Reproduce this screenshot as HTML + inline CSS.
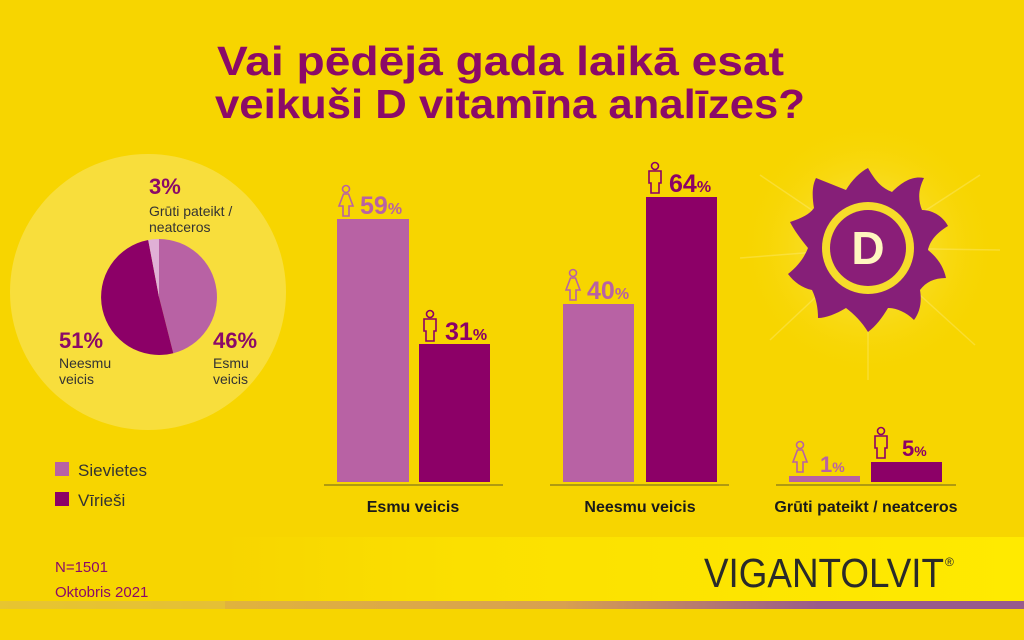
<!DOCTYPE html>
<html><head><meta charset="utf-8"><style>
html,body{margin:0;padding:0;width:1024px;height:640px;overflow:hidden;background:#f7d500}
svg{display:block}
text{font-family:"Liberation Sans",sans-serif}
</style></head><body>
<svg width="1024" height="640" viewBox="0 0 1024 640" xmlns="http://www.w3.org/2000/svg">
<defs>
<linearGradient id="band" x1="0" x2="1" y1="0" y2="0">
<stop offset="0" stop-color="#f7d500"/><stop offset="0.3" stop-color="#fbe000"/><stop offset="1" stop-color="#ffea00"/></linearGradient>
<linearGradient id="pl" x1="0" x2="1"><stop offset="0" stop-color="#e6c030"/><stop offset="0.55" stop-color="#d8a050"/><stop offset="0.8" stop-color="#9a5a8a"/><stop offset="1" stop-color="#985a8c"/></linearGradient>
<radialGradient id="glow" cx="0.5" cy="0.5" r="0.5"><stop offset="0" stop-color="#fff7a0" stop-opacity="0.7"/><stop offset="1" stop-color="#f7d500" stop-opacity="0"/></radialGradient>
<g id="fem"><circle cx="0" cy="-27" r="3.5" fill="none" stroke-width="1.6"/><path d="M-2.5 -22 L2.5 -22 L7 -10 L3 -10 L3 0 L-3 0 L-3 -10 L-7 -10 Z" fill="none" stroke-width="1.6"/></g>
<g id="mal"><circle cx="0" cy="-27" r="3.5" fill="none" stroke-width="1.6"/><path d="M-6 -22 L6 -22 L6 -10 L4 -10 L4 0 L-4 0 L-4 -10 L-6 -10 Z" fill="none" stroke-width="1.6"/></g>
</defs>
<rect width="1024" height="640" fill="#f7d500"/>
<text x="217" y="75" font-size="41" font-weight="bold" fill="#8b0a68" textLength="567" lengthAdjust="spacingAndGlyphs">Vai pēdējā gada laikā esat</text>
<text x="215" y="118" font-size="41" font-weight="bold" fill="#8b0a68" textLength="590" lengthAdjust="spacingAndGlyphs">veikuši D vitamīna analīzes?</text>
<circle cx="148" cy="292" r="138" fill="#f8de3c"/>
<g transform="translate(159,297)">
<path d="M0 0 L0 -58 A58 58 0 0 1 14.3 56.2 Z" fill="#b862a4"/>
<path d="M0 0 L14.3 56.2 A58 58 0 1 1 -10.8 -57 Z" fill="#8c0067"/>
<path d="M0 0 L-10.8 -57 A58 58 0 0 1 0 -58 Z" fill="#e0b0d6"/>
</g>
<text x="149" y="194" font-size="22" font-weight="bold" fill="#8b0a68">3%</text>
<text x="149" y="216" font-size="14" fill="#333">Grūti pateikt /</text>
<text x="149" y="232" font-size="14" fill="#333">neatceros</text>
<text x="59" y="348" font-size="22" font-weight="bold" fill="#8b0a68">51%</text>
<text x="59" y="368" font-size="14" fill="#333">Neesmu</text>
<text x="59" y="384" font-size="14" fill="#333">veicis</text>
<text x="213" y="348" font-size="22" font-weight="bold" fill="#8b0a68">46%</text>
<text x="213" y="368" font-size="14" fill="#333">Esmu</text>
<text x="213" y="384" font-size="14" fill="#333">veicis</text>
<rect x="55" y="462" width="14" height="14" fill="#b862a4"/>
<text x="78" y="476" font-size="17" fill="#333">Sievietes</text>
<rect x="55" y="492" width="14" height="14" fill="#8c0067"/>
<text x="78" y="506" font-size="17" fill="#333">Vīrieši</text>
<text x="55" y="572" font-size="15" fill="#8b0a68">N=1501</text>
<text x="55" y="597" font-size="15" fill="#8b0a68">Oktobris 2021</text>
<circle cx="868" cy="248" r="130" fill="url(#glow)"/>
<g stroke="#fff3a0" stroke-opacity="0.3" stroke-width="1.5">
<line x1="868" y1="248" x2="760" y2="175"/><line x1="868" y1="248" x2="980" y2="175"/><line x1="868" y1="248" x2="770" y2="340"/><line x1="868" y1="248" x2="975" y2="345"/><line x1="868" y1="248" x2="868" y2="380"/><line x1="868" y1="248" x2="1000" y2="250"/><line x1="868" y1="248" x2="740" y2="258"/>
</g>
<g transform="translate(868,248)" fill="#861f78">
<path d="M0 -80 C8 -66 14 -60 24 -56 C36 -68 46 -72 56 -70 C50 -58 50 -48 54 -38 C66 -38 76 -30 80 -22 C70 -16 62 -8 60 2 C70 10 76 20 78 30 C66 30 58 34 52 42 C54 54 52 64 46 72 C38 64 28 60 20 60 C14 70 8 78 0 84 C-6 74 -14 66 -22 60 C-32 66 -42 70 -50 70 C-50 60 -52 50 -56 42 C-66 40 -74 34 -80 26 C-70 18 -64 10 -60 0 C-68 -10 -74 -18 -78 -26 C-66 -30 -58 -34 -54 -40 C-56 -52 -56 -62 -52 -70 C-42 -66 -32 -62 -22 -58 C-16 -68 -8 -76 0 -80 Z"/>
<circle r="46" fill="#f6dc2a"/><circle r="38" fill="#8a1e78"/>
<text x="0" y="16" font-size="46" font-weight="bold" text-anchor="middle" fill="#fff6c0">D</text>
</g>
<rect x="225" y="537" width="799" height="66" fill="url(#band)"/>
<rect x="0" y="601" width="1024" height="8" fill="url(#pl)"/>
<rect x="0" y="601" width="225" height="8" fill="#e8c830" opacity="0.6"/>
<text x="704" y="587" font-size="41" fill="#2a2a2a" textLength="240" lengthAdjust="spacingAndGlyphs">VIGANTOLVIT</text>
<text x="945" y="566" font-size="12" fill="#2a2a2a">®</text>
<g fill="#b09a10"><rect x="324" y="484" width="179" height="2"/><rect x="550" y="484" width="179" height="2"/><rect x="776" y="484" width="180" height="2"/></g>
<rect x="337" y="219" width="72" height="263" fill="#b862a4"/>
<rect x="419" y="344" width="71" height="138" fill="#8c0067"/>
<rect x="563" y="304" width="71" height="178" fill="#b862a4"/>
<rect x="646" y="197" width="71" height="285" fill="#8c0067"/>
<rect x="789" y="476" width="71" height="6" fill="#b862a4"/>
<rect x="871" y="462" width="71" height="20" fill="#8c0067"/>
<use href="#fem" x="346" y="216" stroke="#b862a4"/>
<text x="360" y="214" font-size="25" font-weight="bold" fill="#b862a4">59<tspan font-size="16">%</tspan></text>
<use href="#mal" x="430" y="341" stroke="#8c0067"/>
<text x="445" y="340" font-size="25" font-weight="bold" fill="#8c0067">31<tspan font-size="16">%</tspan></text>
<use href="#fem" x="573" y="300" stroke="#b862a4"/>
<text x="587" y="299" font-size="25" font-weight="bold" fill="#b862a4">40<tspan font-size="16">%</tspan></text>
<use href="#mal" x="655" y="193" stroke="#8c0067"/>
<text x="669" y="192" font-size="25" font-weight="bold" fill="#8c0067">64<tspan font-size="16">%</tspan></text>
<use href="#fem" x="800" y="472" stroke="#b862a4"/>
<text x="820" y="472" font-size="22" font-weight="bold" fill="#b862a4">1<tspan font-size="14">%</tspan></text>
<use href="#mal" x="881" y="458" stroke="#8c0067"/>
<text x="902" y="456" font-size="22" font-weight="bold" fill="#8c0067">5<tspan font-size="14">%</tspan></text>
<text x="413" y="512" font-size="16" font-weight="bold" fill="#1a1a1a" text-anchor="middle">Esmu veicis</text>
<text x="640" y="512" font-size="16" font-weight="bold" fill="#1a1a1a" text-anchor="middle">Neesmu veicis</text>
<text x="866" y="512" font-size="16" font-weight="bold" fill="#1a1a1a" text-anchor="middle">Grūti pateikt / neatceros</text>
</svg>
</body></html>
